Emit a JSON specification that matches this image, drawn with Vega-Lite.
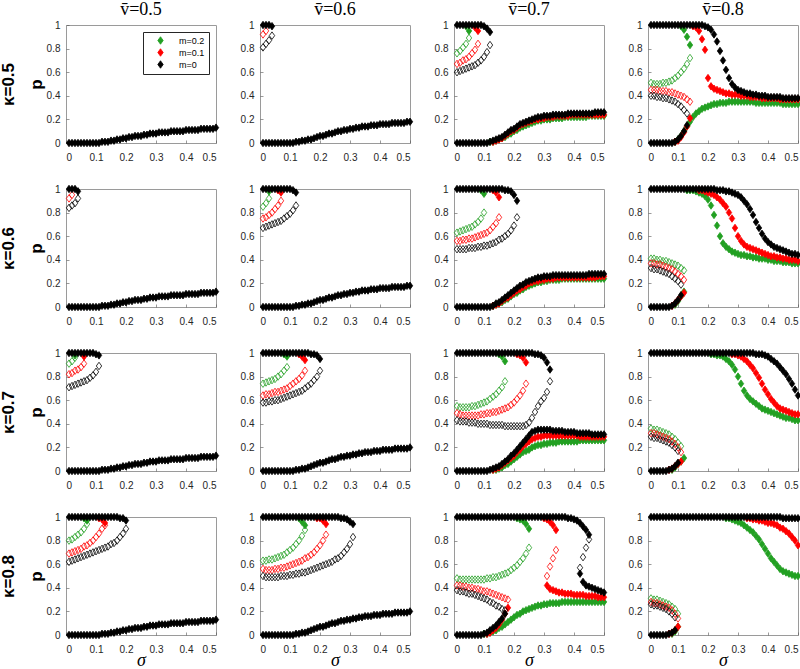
{
"$schema":"https://vega.github.io/schema/vega-lite/v6.json",
"background":"white",
"padding":{"left":-2,"top":0,"right":0,"bottom":0},
"data":{"format":{"type":"csv","parse":{"m":"number","f":"number","s":"number","p":"number"}},"values":"g,m,f,s,p\na,0,1,.01,0\na,0,1,.02,0\na,0,1,.03,0\na,0,1,.04,0\na,0,1,.05,0\na,0,1,.06,0\na,0,1,.07,0\na,0,1,.08,0\na,0,1,.09,0\na,0,1,.1,0\na,0,1,.11,0\na,0,1,.12,.01\na,0,1,.13,.01\na,0,1,.14,.01\na,0,1,.15,.02\na,0,1,.16,.02\na,0,1,.17,.03\na,0,1,.18,.03\na,0,1,.19,.04\na,0,1,.2,.04\na,0,1,.21,.05\na,0,1,.22,.05\na,0,1,.23,.06\na,0,1,.24,.06\na,0,1,.25,.06\na,0,1,.26,.07\na,0,1,.27,.07\na,0,1,.28,.08\na,0,1,.29,.08\na,0,1,.3,.08\na,0,1,.31,.09\na,0,1,.32,.09\na,0,1,.33,.09\na,0,1,.34,.09\na,0,1,.35,.1\na,0,1,.36,.1\na,0,1,.37,.1\na,0,1,.38,.1\na,0,1,.39,.1\na,0,1,.4,.11\na,0,1,.41,.11\na,0,1,.42,.11\na,0,1,.43,.11\na,0,1,.44,.11\na,0,1,.45,.12\na,0,1,.46,.12\na,0,1,.47,.12\na,0,1,.48,.12\na,0,1,.49,.12\na,0,1,.5,.13\nb,.1,0,.01,.92\nb,.1,0,.02,.95\nb,0,1,.01,1\nb,0,1,.02,1\nb,0,1,.03,1\nb,0,1,.04,.99\nb,0,0,.01,.81\nb,0,0,.02,.84\nb,0,0,.03,.87\nb,0,0,.04,.91\nb,0,1,.01,0\nb,0,1,.02,0\nb,0,1,.03,0\nb,0,1,.04,0\nb,0,1,.05,0\nb,0,1,.06,0\nb,0,1,.07,0\nb,0,1,.08,0\nb,0,1,.09,0\nb,0,1,.1,0\nb,0,1,.11,0\nb,0,1,.12,.01\nb,0,1,.13,.01\nb,0,1,.14,.02\nb,0,1,.15,.02\nb,0,1,.16,.03\nb,0,1,.17,.03\nb,0,1,.18,.04\nb,0,1,.19,.05\nb,0,1,.2,.06\nb,0,1,.21,.06\nb,0,1,.22,.07\nb,0,1,.23,.08\nb,0,1,.24,.08\nb,0,1,.25,.09\nb,0,1,.26,.1\nb,0,1,.27,.1\nb,0,1,.28,.11\nb,0,1,.29,.11\nb,0,1,.3,.12\nb,0,1,.31,.12\nb,0,1,.32,.13\nb,0,1,.33,.13\nb,0,1,.34,.14\nb,0,1,.35,.14\nb,0,1,.36,.14\nb,0,1,.37,.15\nb,0,1,.38,.15\nb,0,1,.39,.15\nb,0,1,.4,.16\nb,0,1,.41,.16\nb,0,1,.42,.16\nb,0,1,.43,.16\nb,0,1,.44,.17\nb,0,1,.45,.17\nb,0,1,.46,.17\nb,0,1,.47,.17\nb,0,1,.48,.17\nb,0,1,.49,.18\nb,0,1,.5,.18\nc,.2,1,.04,.99\nc,.2,1,.05,.95\nc,.2,0,.01,.76\nc,.2,0,.02,.78\nc,.2,0,.03,.81\nc,.2,0,.04,.84\nc,.2,0,.05,.89\nc,.2,1,.12,.01\nc,.2,1,.13,.01\nc,.2,1,.14,.02\nc,.2,1,.15,.03\nc,.2,1,.16,.04\nc,.2,1,.17,.05\nc,.2,1,.18,.07\nc,.2,1,.19,.08\nc,.2,1,.2,.1\nc,.2,1,.21,.11\nc,.2,1,.22,.13\nc,.2,1,.23,.14\nc,.2,1,.24,.15\nc,.2,1,.25,.16\nc,.2,1,.26,.17\nc,.2,1,.27,.18\nc,.2,1,.28,.19\nc,.2,1,.29,.19\nc,.2,1,.3,.2\nc,.2,1,.31,.2\nc,.2,1,.32,.2\nc,.2,1,.33,.21\nc,.2,1,.34,.21\nc,.2,1,.35,.21\nc,.2,1,.36,.21\nc,.2,1,.37,.22\nc,.2,1,.38,.22\nc,.2,1,.39,.22\nc,.2,1,.4,.22\nc,.2,1,.41,.22\nc,.2,1,.42,.22\nc,.2,1,.43,.22\nc,.2,1,.44,.22\nc,.2,1,.45,.23\nc,.2,1,.46,.23\nc,.2,1,.47,.23\nc,.2,1,.48,.23\nc,.2,1,.49,.23\nc,.2,1,.5,.23\nc,.1,1,.07,.98\nc,.1,1,.08,.95\nc,.1,0,.01,.67\nc,.1,0,.02,.68\nc,.1,0,.03,.7\nc,.1,0,.04,.71\nc,.1,0,.05,.73\nc,.1,0,.06,.76\nc,.1,0,.07,.79\nc,.1,0,.08,.84\nc,.1,1,.13,.01\nc,.1,1,.14,.02\nc,.1,1,.15,.03\nc,.1,1,.16,.04\nc,.1,1,.17,.06\nc,.1,1,.18,.08\nc,.1,1,.19,.1\nc,.1,1,.2,.11\nc,.1,1,.21,.13\nc,.1,1,.22,.15\nc,.1,1,.23,.16\nc,.1,1,.24,.17\nc,.1,1,.25,.18\nc,.1,1,.26,.19\nc,.1,1,.27,.2\nc,.1,1,.28,.2\nc,.1,1,.29,.21\nc,.1,1,.3,.21\nc,.1,1,.31,.22\nc,.1,1,.32,.22\nc,.1,1,.33,.22\nc,.1,1,.34,.23\nc,.1,1,.35,.23\nc,.1,1,.36,.23\nc,.1,1,.37,.23\nc,.1,1,.38,.23\nc,.1,1,.39,.24\nc,.1,1,.4,.24\nc,.1,1,.41,.24\nc,.1,1,.42,.24\nc,.1,1,.43,.24\nc,.1,1,.44,.24\nc,.1,1,.45,.24\nc,.1,1,.46,.24\nc,.1,1,.47,.24\nc,.1,1,.48,.24\nc,.1,1,.49,.24\nc,.1,1,.5,.24\nc,0,1,.01,1\nc,0,1,.02,1\nc,0,1,.03,1\nc,0,1,.04,1\nc,0,1,.05,1\nc,0,1,.06,1\nc,0,1,.07,1\nc,0,1,.08,1\nc,0,1,.09,1\nc,0,1,.1,.99\nc,0,1,.11,.97\nc,0,1,.12,.94\nc,0,0,.01,.6\nc,0,0,.02,.61\nc,0,0,.03,.62\nc,0,0,.04,.63\nc,0,0,.05,.64\nc,0,0,.06,.65\nc,0,0,.07,.66\nc,0,0,.08,.68\nc,0,0,.09,.7\nc,0,0,.1,.73\nc,0,0,.11,.77\nc,0,0,.12,.83\nc,0,1,.01,0\nc,0,1,.02,0\nc,0,1,.03,0\nc,0,1,.04,0\nc,0,1,.05,0\nc,0,1,.06,0\nc,0,1,.07,0\nc,0,1,.08,0\nc,0,1,.09,0\nc,0,1,.1,0\nc,0,1,.11,0\nc,0,1,.12,.01\nc,0,1,.13,.02\nc,0,1,.14,.03\nc,0,1,.15,.04\nc,0,1,.16,.05\nc,0,1,.17,.07\nc,0,1,.18,.09\nc,0,1,.19,.11\nc,0,1,.2,.12\nc,0,1,.21,.14\nc,0,1,.22,.16\nc,0,1,.23,.17\nc,0,1,.24,.18\nc,0,1,.25,.19\nc,0,1,.26,.2\nc,0,1,.27,.21\nc,0,1,.28,.22\nc,0,1,.29,.22\nc,0,1,.3,.23\nc,0,1,.31,.23\nc,0,1,.32,.23\nc,0,1,.33,.24\nc,0,1,.34,.24\nc,0,1,.35,.24\nc,0,1,.36,.24\nc,0,1,.37,.24\nc,0,1,.38,.25\nc,0,1,.39,.25\nc,0,1,.4,.25\nc,0,1,.41,.25\nc,0,1,.42,.25\nc,0,1,.43,.25\nc,0,1,.44,.25\nc,0,1,.45,.25\nc,0,1,.46,.25\nc,0,1,.47,.26\nc,0,1,.48,.26\nc,0,1,.49,.26\nc,0,1,.5,.26\nd,.2,1,.11,.99\nd,.2,1,.12,.96\nd,.2,1,.13,.9\nd,.2,1,.14,.83\nd,.2,0,.01,.51\nd,.2,0,.02,.5\nd,.2,0,.03,.5\nd,.2,0,.04,.5\nd,.2,0,.05,.51\nd,.2,0,.06,.51\nd,.2,0,.07,.52\nd,.2,0,.08,.53\nd,.2,0,.09,.55\nd,.2,0,.1,.57\nd,.2,0,.11,.6\nd,.2,0,.12,.63\nd,.2,0,.13,.67\nd,.2,0,.14,.72\nd,.2,1,.09,.01\nd,.2,1,.1,.03\nd,.2,1,.11,.06\nd,.2,1,.12,.1\nd,.2,1,.13,.14\nd,.2,1,.14,.18\nd,.2,1,.15,.22\nd,.2,1,.16,.25\nd,.2,1,.17,.27\nd,.2,1,.18,.29\nd,.2,1,.19,.3\nd,.2,1,.2,.31\nd,.2,1,.21,.32\nd,.2,1,.22,.33\nd,.2,1,.23,.33\nd,.2,1,.24,.34\nd,.2,1,.25,.34\nd,.2,1,.26,.34\nd,.2,1,.27,.35\nd,.2,1,.28,.35\nd,.2,1,.29,.35\nd,.2,1,.3,.35\nd,.2,1,.31,.35\nd,.2,1,.32,.35\nd,.2,1,.33,.35\nd,.2,1,.34,.35\nd,.2,1,.35,.35\nd,.2,1,.36,.34\nd,.2,1,.37,.34\nd,.2,1,.38,.34\nd,.2,1,.39,.34\nd,.2,1,.4,.34\nd,.2,1,.41,.34\nd,.2,1,.42,.34\nd,.2,1,.43,.34\nd,.2,1,.44,.34\nd,.2,1,.45,.33\nd,.2,1,.46,.33\nd,.2,1,.47,.33\nd,.2,1,.48,.33\nd,.2,1,.49,.33\nd,.2,1,.5,.33\nd,.1,1,.15,.99\nd,.1,1,.16,.98\nd,.1,1,.17,.95\nd,.1,1,.18,.88\nd,.1,1,.19,.79\nd,.1,1,.2,.55\nd,.1,1,.21,.48\nd,.1,1,.22,.46\nd,.1,1,.23,.45\nd,.1,1,.24,.44\nd,.1,1,.25,.43\nd,.1,1,.26,.42\nd,.1,1,.27,.42\nd,.1,1,.28,.41\nd,.1,1,.29,.41\nd,.1,1,.3,.41\nd,.1,1,.31,.4\nd,.1,1,.32,.4\nd,.1,1,.33,.4\nd,.1,1,.34,.39\nd,.1,1,.35,.39\nd,.1,1,.36,.39\nd,.1,1,.37,.39\nd,.1,1,.38,.38\nd,.1,1,.39,.38\nd,.1,1,.4,.38\nd,.1,1,.41,.38\nd,.1,1,.42,.38\nd,.1,1,.43,.38\nd,.1,1,.44,.37\nd,.1,1,.45,.37\nd,.1,1,.46,.37\nd,.1,1,.47,.37\nd,.1,1,.48,.37\nd,.1,1,.49,.37\nd,.1,1,.5,.37\nd,.1,0,.01,.45\nd,.1,0,.02,.45\nd,.1,0,.03,.45\nd,.1,0,.04,.44\nd,.1,0,.05,.44\nd,.1,0,.06,.44\nd,.1,0,.07,.43\nd,.1,0,.08,.43\nd,.1,0,.09,.42\nd,.1,0,.1,.41\nd,.1,0,.11,.4\nd,.1,0,.12,.39\nd,.1,0,.13,.37\nd,.1,0,.14,.35\nd,.1,1,.09,.01\nd,.1,1,.1,.02\nd,.1,1,.11,.05\nd,.1,1,.12,.09\nd,.1,1,.13,.14\nd,.1,1,.14,.21\nd,0,1,.01,1\nd,0,1,.02,1\nd,0,1,.03,1\nd,0,1,.04,1\nd,0,1,.05,1\nd,0,1,.06,1\nd,0,1,.07,1\nd,0,1,.08,1\nd,0,1,.09,1\nd,0,1,.1,1\nd,0,1,.11,1\nd,0,1,.12,1\nd,0,1,.13,1\nd,0,1,.14,1\nd,0,1,.15,1\nd,0,1,.16,1\nd,0,1,.17,1\nd,0,1,.18,1\nd,0,1,.19,.99\nd,0,1,.2,.98\nd,0,1,.21,.96\nd,0,1,.22,.92\nd,0,1,.23,.86\nd,0,1,.24,.78\nd,0,1,.25,.7\nd,0,1,.26,.62\nd,0,1,.27,.55\nd,0,1,.28,.5\nd,0,1,.29,.47\nd,0,1,.3,.45\nd,0,1,.31,.44\nd,0,1,.32,.43\nd,0,1,.33,.42\nd,0,1,.34,.42\nd,0,1,.35,.41\nd,0,1,.36,.41\nd,0,1,.37,.4\nd,0,1,.38,.4\nd,0,1,.39,.4\nd,0,1,.4,.39\nd,0,1,.41,.39\nd,0,1,.42,.39\nd,0,1,.43,.39\nd,0,1,.44,.39\nd,0,1,.45,.38\nd,0,1,.46,.38\nd,0,1,.47,.38\nd,0,1,.48,.38\nd,0,1,.49,.38\nd,0,1,.5,.38\nd,0,0,.01,.4\nd,0,0,.02,.4\nd,0,0,.03,.39\nd,0,0,.04,.39\nd,0,0,.05,.38\nd,0,0,.06,.38\nd,0,0,.07,.37\nd,0,0,.08,.36\nd,0,0,.09,.35\nd,0,0,.1,.33\nd,0,0,.11,.31\nd,0,0,.12,.28\nd,0,0,.13,.25\nd,0,1,.01,0\nd,0,1,.02,0\nd,0,1,.03,0\nd,0,1,.04,0\nd,0,1,.05,0\nd,0,1,.06,0\nd,0,1,.07,0\nd,0,1,.08,0\nd,0,1,.09,.01\nd,0,1,.1,.03\nd,0,1,.11,.06\nd,0,1,.12,.1\nd,0,1,.13,.15\ne,.1,0,.01,.92\ne,.1,0,.02,.95\ne,0,1,.01,1\ne,0,1,.02,1\ne,0,1,.03,1\ne,0,1,.04,.98\ne,0,0,.01,.84\ne,0,0,.02,.86\ne,0,0,.03,.88\ne,0,0,.04,.92\ne,0,1,.01,0\ne,0,1,.02,0\ne,0,1,.03,0\ne,0,1,.04,0\ne,0,1,.05,0\ne,0,1,.06,0\ne,0,1,.07,0\ne,0,1,.08,0\ne,0,1,.09,0\ne,0,1,.1,0\ne,0,1,.11,0\ne,0,1,.12,.01\ne,0,1,.13,.01\ne,0,1,.14,.01\ne,0,1,.15,.02\ne,0,1,.16,.02\ne,0,1,.17,.03\ne,0,1,.18,.03\ne,0,1,.19,.04\ne,0,1,.2,.04\ne,0,1,.21,.05\ne,0,1,.22,.05\ne,0,1,.23,.06\ne,0,1,.24,.06\ne,0,1,.25,.06\ne,0,1,.26,.07\ne,0,1,.27,.07\ne,0,1,.28,.08\ne,0,1,.29,.08\ne,0,1,.3,.08\ne,0,1,.31,.09\ne,0,1,.32,.09\ne,0,1,.33,.09\ne,0,1,.34,.09\ne,0,1,.35,.1\ne,0,1,.36,.1\ne,0,1,.37,.1\ne,0,1,.38,.1\ne,0,1,.39,.1\ne,0,1,.4,.11\ne,0,1,.41,.11\ne,0,1,.42,.11\ne,0,1,.43,.11\ne,0,1,.44,.11\ne,0,1,.45,.12\ne,0,1,.46,.12\ne,0,1,.47,.12\ne,0,1,.48,.12\ne,0,1,.49,.12\ne,0,1,.5,.13\nf,.2,1,.03,.98\nf,.2,0,.01,.85\nf,.2,0,.02,.88\nf,.2,0,.03,.92\nf,.1,1,.06,.99\nf,.1,1,.07,.97\nf,.1,0,.01,.75\nf,.1,0,.02,.76\nf,.1,0,.03,.78\nf,.1,0,.04,.8\nf,.1,0,.05,.83\nf,.1,0,.06,.86\nf,.1,0,.07,.9\nf,0,1,.01,1\nf,0,1,.02,1\nf,0,1,.03,1\nf,0,1,.04,1\nf,0,1,.05,1\nf,0,1,.06,1\nf,0,1,.07,1\nf,0,1,.08,1\nf,0,1,.09,1\nf,0,1,.1,1\nf,0,1,.11,.99\nf,0,1,.12,.97\nf,0,0,.01,.67\nf,0,0,.02,.68\nf,0,0,.03,.69\nf,0,0,.04,.7\nf,0,0,.05,.71\nf,0,0,.06,.72\nf,0,0,.07,.73\nf,0,0,.08,.75\nf,0,0,.09,.77\nf,0,0,.1,.79\nf,0,0,.11,.82\nf,0,0,.12,.86\nf,0,1,.01,0\nf,0,1,.02,0\nf,0,1,.03,0\nf,0,1,.04,0\nf,0,1,.05,0\nf,0,1,.06,0\nf,0,1,.07,0\nf,0,1,.08,0\nf,0,1,.09,0\nf,0,1,.1,0\nf,0,1,.11,0\nf,0,1,.12,.01\nf,0,1,.13,.01\nf,0,1,.14,.02\nf,0,1,.15,.02\nf,0,1,.16,.03\nf,0,1,.17,.03\nf,0,1,.18,.04\nf,0,1,.19,.05\nf,0,1,.2,.06\nf,0,1,.21,.06\nf,0,1,.22,.07\nf,0,1,.23,.08\nf,0,1,.24,.08\nf,0,1,.25,.09\nf,0,1,.26,.1\nf,0,1,.27,.1\nf,0,1,.28,.11\nf,0,1,.29,.11\nf,0,1,.3,.12\nf,0,1,.31,.12\nf,0,1,.32,.13\nf,0,1,.33,.13\nf,0,1,.34,.14\nf,0,1,.35,.14\nf,0,1,.36,.14\nf,0,1,.37,.15\nf,0,1,.38,.15\nf,0,1,.39,.15\nf,0,1,.4,.16\nf,0,1,.41,.16\nf,0,1,.42,.16\nf,0,1,.43,.16\nf,0,1,.44,.17\nf,0,1,.45,.17\nf,0,1,.46,.17\nf,0,1,.47,.17\nf,0,1,.48,.17\nf,0,1,.49,.18\nf,0,1,.5,.18\ng,.2,1,.09,.99\ng,.2,1,.1,.96\ng,.2,0,.01,.63\ng,.2,0,.02,.64\ng,.2,0,.03,.65\ng,.2,0,.04,.66\ng,.2,0,.05,.67\ng,.2,0,.06,.68\ng,.2,0,.07,.7\ng,.2,0,.08,.72\ng,.2,0,.09,.75\ng,.2,0,.1,.8\ng,.2,1,.13,.01\ng,.2,1,.14,.02\ng,.2,1,.15,.03\ng,.2,1,.16,.04\ng,.2,1,.17,.06\ng,.2,1,.18,.07\ng,.2,1,.19,.09\ng,.2,1,.2,.11\ng,.2,1,.21,.12\ng,.2,1,.22,.14\ng,.2,1,.23,.15\ng,.2,1,.24,.17\ng,.2,1,.25,.18\ng,.2,1,.26,.19\ng,.2,1,.27,.2\ng,.2,1,.28,.21\ng,.2,1,.29,.21\ng,.2,1,.3,.22\ng,.2,1,.31,.22\ng,.2,1,.32,.23\ng,.2,1,.33,.23\ng,.2,1,.34,.23\ng,.2,1,.35,.23\ng,.2,1,.36,.24\ng,.2,1,.37,.24\ng,.2,1,.38,.24\ng,.2,1,.39,.24\ng,.2,1,.4,.24\ng,.2,1,.41,.24\ng,.2,1,.42,.24\ng,.2,1,.43,.24\ng,.2,1,.44,.24\ng,.2,1,.45,.24\ng,.2,1,.46,.24\ng,.2,1,.47,.24\ng,.2,1,.48,.24\ng,.2,1,.49,.24\ng,.2,1,.5,.24\ng,.1,1,.13,.99\ng,.1,1,.14,.97\ng,.1,1,.15,.93\ng,.1,0,.01,.56\ng,.1,0,.02,.56\ng,.1,0,.03,.57\ng,.1,0,.04,.57\ng,.1,0,.05,.58\ng,.1,0,.06,.58\ng,.1,0,.07,.59\ng,.1,0,.08,.6\ng,.1,0,.09,.61\ng,.1,0,.1,.62\ng,.1,0,.11,.63\ng,.1,0,.12,.65\ng,.1,0,.13,.68\ng,.1,0,.14,.71\ng,.1,0,.15,.76\ng,.1,1,.13,.01\ng,.1,1,.14,.02\ng,.1,1,.15,.03\ng,.1,1,.16,.05\ng,.1,1,.17,.07\ng,.1,1,.18,.08\ng,.1,1,.19,.1\ng,.1,1,.2,.12\ng,.1,1,.21,.14\ng,.1,1,.22,.15\ng,.1,1,.23,.17\ng,.1,1,.24,.18\ng,.1,1,.25,.2\ng,.1,1,.26,.21\ng,.1,1,.27,.22\ng,.1,1,.28,.22\ng,.1,1,.29,.23\ng,.1,1,.3,.23\ng,.1,1,.31,.24\ng,.1,1,.32,.24\ng,.1,1,.33,.24\ng,.1,1,.34,.25\ng,.1,1,.35,.25\ng,.1,1,.36,.25\ng,.1,1,.37,.25\ng,.1,1,.38,.25\ng,.1,1,.39,.25\ng,.1,1,.4,.25\ng,.1,1,.41,.25\ng,.1,1,.42,.25\ng,.1,1,.43,.25\ng,.1,1,.44,.25\ng,.1,1,.45,.25\ng,.1,1,.46,.25\ng,.1,1,.47,.25\ng,.1,1,.48,.26\ng,.1,1,.49,.26\ng,.1,1,.5,.26\ng,0,1,.01,1\ng,0,1,.02,1\ng,0,1,.03,1\ng,0,1,.04,1\ng,0,1,.05,1\ng,0,1,.06,1\ng,0,1,.07,1\ng,0,1,.08,1\ng,0,1,.09,1\ng,0,1,.1,1\ng,0,1,.11,1\ng,0,1,.12,1\ng,0,1,.13,1\ng,0,1,.14,1\ng,0,1,.15,1\ng,0,1,.16,1\ng,0,1,.17,.99\ng,0,1,.18,.99\ng,0,1,.19,.98\ng,0,1,.2,.95\ng,0,1,.21,.9\ng,0,0,.01,.49\ng,0,0,.02,.49\ng,0,0,.03,.49\ng,0,0,.04,.49\ng,0,0,.05,.5\ng,0,0,.06,.5\ng,0,0,.07,.5\ng,0,0,.08,.51\ng,0,0,.09,.51\ng,0,0,.1,.52\ng,0,0,.11,.52\ng,0,0,.12,.53\ng,0,0,.13,.54\ng,0,0,.14,.55\ng,0,0,.15,.57\ng,0,0,.16,.58\ng,0,0,.17,.6\ng,0,0,.18,.62\ng,0,0,.19,.65\ng,0,0,.2,.69\ng,0,0,.21,.76\ng,0,1,.01,0\ng,0,1,.02,0\ng,0,1,.03,0\ng,0,1,.04,0\ng,0,1,.05,0\ng,0,1,.06,0\ng,0,1,.07,0\ng,0,1,.08,0\ng,0,1,.09,0\ng,0,1,.1,0\ng,0,1,.11,0\ng,0,1,.12,0\ng,0,1,.13,.01\ng,0,1,.14,.03\ng,0,1,.15,.04\ng,0,1,.16,.06\ng,0,1,.17,.08\ng,0,1,.18,.1\ng,0,1,.19,.12\ng,0,1,.2,.14\ng,0,1,.21,.16\ng,0,1,.22,.18\ng,0,1,.23,.19\ng,0,1,.24,.21\ng,0,1,.25,.22\ng,0,1,.26,.23\ng,0,1,.27,.24\ng,0,1,.28,.25\ng,0,1,.29,.25\ng,0,1,.3,.26\ng,0,1,.31,.26\ng,0,1,.32,.26\ng,0,1,.33,.27\ng,0,1,.34,.27\ng,0,1,.35,.27\ng,0,1,.36,.27\ng,0,1,.37,.27\ng,0,1,.38,.27\ng,0,1,.39,.27\ng,0,1,.4,.27\ng,0,1,.41,.27\ng,0,1,.42,.27\ng,0,1,.43,.27\ng,0,1,.44,.27\ng,0,1,.45,.28\ng,0,1,.46,.28\ng,0,1,.47,.28\ng,0,1,.48,.28\ng,0,1,.49,.28\ng,0,1,.5,.28\nh,.2,1,.13,.99\nh,.2,1,.14,.99\nh,.2,1,.15,.99\nh,.2,1,.16,.98\nh,.2,1,.17,.97\nh,.2,1,.18,.96\nh,.2,1,.19,.94\nh,.2,1,.2,.91\nh,.2,1,.21,.86\nh,.2,1,.22,.78\nh,.2,1,.23,.69\nh,.2,1,.24,.6\nh,.2,1,.25,.54\nh,.2,1,.26,.51\nh,.2,1,.27,.49\nh,.2,1,.28,.47\nh,.2,1,.29,.46\nh,.2,1,.3,.45\nh,.2,1,.31,.44\nh,.2,1,.32,.44\nh,.2,1,.33,.43\nh,.2,1,.34,.43\nh,.2,1,.35,.42\nh,.2,1,.36,.42\nh,.2,1,.37,.41\nh,.2,1,.38,.41\nh,.2,1,.39,.41\nh,.2,1,.4,.4\nh,.2,1,.41,.4\nh,.2,1,.42,.39\nh,.2,1,.43,.39\nh,.2,1,.44,.39\nh,.2,1,.45,.38\nh,.2,1,.46,.38\nh,.2,1,.47,.38\nh,.2,1,.48,.37\nh,.2,1,.49,.37\nh,.2,1,.5,.37\nh,.2,0,.01,.41\nh,.2,0,.02,.41\nh,.2,0,.03,.4\nh,.2,0,.04,.4\nh,.2,0,.05,.39\nh,.2,0,.06,.39\nh,.2,0,.07,.38\nh,.2,0,.08,.37\nh,.2,0,.09,.36\nh,.2,0,.1,.35\nh,.2,0,.11,.33\nh,.2,0,.12,.31\nh,.2,1,.09,.02\nh,.2,1,.1,.05\nh,.2,1,.11,.09\nh,.2,1,.12,.13\nh,.1,1,.17,.99\nh,.1,1,.18,.99\nh,.1,1,.19,.98\nh,.1,1,.2,.97\nh,.1,1,.21,.96\nh,.1,1,.22,.95\nh,.1,1,.23,.93\nh,.1,1,.24,.91\nh,.1,1,.25,.88\nh,.1,1,.26,.85\nh,.1,1,.27,.8\nh,.1,1,.28,.75\nh,.1,1,.29,.67\nh,.1,1,.3,.6\nh,.1,1,.31,.56\nh,.1,1,.32,.53\nh,.1,1,.33,.51\nh,.1,1,.34,.5\nh,.1,1,.35,.49\nh,.1,1,.36,.48\nh,.1,1,.37,.47\nh,.1,1,.38,.46\nh,.1,1,.39,.45\nh,.1,1,.4,.44\nh,.1,1,.41,.43\nh,.1,1,.42,.43\nh,.1,1,.43,.42\nh,.1,1,.44,.42\nh,.1,1,.45,.41\nh,.1,1,.46,.41\nh,.1,1,.47,.4\nh,.1,1,.48,.4\nh,.1,1,.49,.4\nh,.1,1,.5,.39\nh,.1,0,.01,.37\nh,.1,0,.02,.37\nh,.1,0,.03,.36\nh,.1,0,.04,.36\nh,.1,0,.05,.35\nh,.1,0,.06,.34\nh,.1,0,.07,.33\nh,.1,0,.08,.32\nh,.1,0,.09,.3\nh,.1,0,.1,.28\nh,.1,0,.11,.26\nh,.1,0,.12,.23\nh,.1,1,.08,.01\nh,.1,1,.09,.03\nh,.1,1,.1,.06\nh,.1,1,.11,.09\nh,.1,1,.12,.12\nh,0,1,.01,1\nh,0,1,.02,1\nh,0,1,.03,1\nh,0,1,.04,1\nh,0,1,.05,1\nh,0,1,.06,1\nh,0,1,.07,1\nh,0,1,.08,1\nh,0,1,.09,1\nh,0,1,.1,1\nh,0,1,.11,1\nh,0,1,.12,1\nh,0,1,.13,1\nh,0,1,.14,1\nh,0,1,.15,1\nh,0,1,.16,1\nh,0,1,.17,1\nh,0,1,.18,1\nh,0,1,.19,1\nh,0,1,.2,1\nh,0,1,.21,1\nh,0,1,.22,1\nh,0,1,.23,.99\nh,0,1,.24,.99\nh,0,1,.25,.99\nh,0,1,.26,.98\nh,0,1,.27,.98\nh,0,1,.28,.97\nh,0,1,.29,.96\nh,0,1,.3,.95\nh,0,1,.31,.93\nh,0,1,.32,.9\nh,0,1,.33,.87\nh,0,1,.34,.83\nh,0,1,.35,.78\nh,0,1,.36,.72\nh,0,1,.37,.67\nh,0,1,.38,.62\nh,0,1,.39,.58\nh,0,1,.4,.55\nh,0,1,.41,.53\nh,0,1,.42,.51\nh,0,1,.43,.5\nh,0,1,.44,.49\nh,0,1,.45,.48\nh,0,1,.46,.47\nh,0,1,.47,.46\nh,0,1,.48,.45\nh,0,1,.49,.45\nh,0,1,.5,.44\nh,0,0,.01,.33\nh,0,0,.02,.32\nh,0,0,.03,.32\nh,0,0,.04,.31\nh,0,0,.05,.3\nh,0,0,.06,.29\nh,0,0,.07,.28\nh,0,0,.08,.26\nh,0,0,.09,.24\nh,0,0,.1,.22\nh,0,0,.11,.19\nh,0,1,.01,0\nh,0,1,.02,0\nh,0,1,.03,0\nh,0,1,.04,0\nh,0,1,.05,0\nh,0,1,.06,0\nh,0,1,.07,0\nh,0,1,.08,.01\nh,0,1,.09,.03\nh,0,1,.1,.06\nh,0,1,.11,.1\ni,.2,1,.03,.98\ni,.2,0,.01,.91\ni,.2,0,.02,.93\ni,.2,0,.03,.96\ni,.1,1,.06,.97\ni,.1,0,.01,.82\ni,.1,0,.02,.83\ni,.1,0,.03,.85\ni,.1,0,.04,.86\ni,.1,0,.05,.88\ni,.1,0,.06,.91\ni,0,1,.01,1\ni,0,1,.02,1\ni,0,1,.03,1\ni,0,1,.04,1\ni,0,1,.05,1\ni,0,1,.06,1\ni,0,1,.07,1\ni,0,1,.08,1\ni,0,1,.09,1\ni,0,1,.1,.99\ni,0,1,.11,.98\ni,0,0,.01,.71\ni,0,0,.02,.72\ni,0,0,.03,.73\ni,0,0,.04,.74\ni,0,0,.05,.75\ni,0,0,.06,.76\ni,0,0,.07,.77\ni,0,0,.08,.79\ni,0,0,.09,.81\ni,0,0,.1,.84\ni,0,0,.11,.89\ni,0,1,.01,0\ni,0,1,.02,0\ni,0,1,.03,0\ni,0,1,.04,0\ni,0,1,.05,0\ni,0,1,.06,0\ni,0,1,.07,0\ni,0,1,.08,0\ni,0,1,.09,0\ni,0,1,.1,0\ni,0,1,.11,0\ni,0,1,.12,.01\ni,0,1,.13,.01\ni,0,1,.14,.01\ni,0,1,.15,.02\ni,0,1,.16,.02\ni,0,1,.17,.03\ni,0,1,.18,.03\ni,0,1,.19,.04\ni,0,1,.2,.04\ni,0,1,.21,.05\ni,0,1,.22,.05\ni,0,1,.23,.06\ni,0,1,.24,.06\ni,0,1,.25,.06\ni,0,1,.26,.07\ni,0,1,.27,.07\ni,0,1,.28,.08\ni,0,1,.29,.08\ni,0,1,.3,.08\ni,0,1,.31,.09\ni,0,1,.32,.09\ni,0,1,.33,.09\ni,0,1,.34,.09\ni,0,1,.35,.1\ni,0,1,.36,.1\ni,0,1,.37,.1\ni,0,1,.38,.1\ni,0,1,.39,.1\ni,0,1,.4,.11\ni,0,1,.41,.11\ni,0,1,.42,.11\ni,0,1,.43,.11\ni,0,1,.44,.11\ni,0,1,.45,.12\ni,0,1,.46,.12\ni,0,1,.47,.12\ni,0,1,.48,.12\ni,0,1,.49,.12\ni,0,1,.5,.13\nj,.2,1,.08,.99\nj,.2,1,.09,.97\nj,.2,0,.01,.74\nj,.2,0,.02,.75\nj,.2,0,.03,.76\nj,.2,0,.04,.77\nj,.2,0,.05,.78\nj,.2,0,.06,.8\nj,.2,0,.07,.82\nj,.2,0,.08,.85\nj,.2,0,.09,.88\nj,.1,1,.13,.99\nj,.1,1,.14,.97\nj,.1,1,.15,.94\nj,.1,0,.01,.64\nj,.1,0,.02,.65\nj,.1,0,.03,.65\nj,.1,0,.04,.66\nj,.1,0,.05,.67\nj,.1,0,.06,.67\nj,.1,0,.07,.68\nj,.1,0,.08,.69\nj,.1,0,.09,.7\nj,.1,0,.1,.72\nj,.1,0,.11,.74\nj,.1,0,.12,.76\nj,.1,0,.13,.78\nj,.1,0,.14,.81\nj,.1,0,.15,.85\nj,0,1,.01,1\nj,0,1,.02,1\nj,0,1,.03,1\nj,0,1,.04,1\nj,0,1,.05,1\nj,0,1,.06,1\nj,0,1,.07,1\nj,0,1,.08,1\nj,0,1,.09,1\nj,0,1,.1,1\nj,0,1,.11,1\nj,0,1,.12,1\nj,0,1,.13,1\nj,0,1,.14,1\nj,0,1,.15,1\nj,0,1,.16,1\nj,0,1,.17,.99\nj,0,1,.18,.99\nj,0,1,.19,.98\nj,0,1,.2,.95\nj,0,0,.01,.58\nj,0,0,.02,.58\nj,0,0,.03,.59\nj,0,0,.04,.59\nj,0,0,.05,.6\nj,0,0,.06,.6\nj,0,0,.07,.61\nj,0,0,.08,.62\nj,0,0,.09,.63\nj,0,0,.1,.64\nj,0,0,.11,.65\nj,0,0,.12,.66\nj,0,0,.13,.67\nj,0,0,.14,.68\nj,0,0,.15,.7\nj,0,0,.16,.72\nj,0,0,.17,.74\nj,0,0,.18,.77\nj,0,0,.19,.8\nj,0,0,.2,.85\nj,0,1,.01,0\nj,0,1,.02,0\nj,0,1,.03,0\nj,0,1,.04,0\nj,0,1,.05,0\nj,0,1,.06,0\nj,0,1,.07,0\nj,0,1,.08,0\nj,0,1,.09,0\nj,0,1,.1,0\nj,0,1,.11,0\nj,0,1,.12,.01\nj,0,1,.13,.01\nj,0,1,.14,.02\nj,0,1,.15,.02\nj,0,1,.16,.03\nj,0,1,.17,.04\nj,0,1,.18,.05\nj,0,1,.19,.06\nj,0,1,.2,.07\nj,0,1,.21,.07\nj,0,1,.22,.08\nj,0,1,.23,.09\nj,0,1,.24,.1\nj,0,1,.25,.1\nj,0,1,.26,.11\nj,0,1,.27,.12\nj,0,1,.28,.12\nj,0,1,.29,.13\nj,0,1,.3,.13\nj,0,1,.31,.14\nj,0,1,.32,.14\nj,0,1,.33,.15\nj,0,1,.34,.15\nj,0,1,.35,.16\nj,0,1,.36,.16\nj,0,1,.37,.16\nj,0,1,.38,.17\nj,0,1,.39,.17\nj,0,1,.4,.17\nj,0,1,.41,.18\nj,0,1,.42,.18\nj,0,1,.43,.18\nj,0,1,.44,.18\nj,0,1,.45,.19\nj,0,1,.46,.19\nj,0,1,.47,.19\nj,0,1,.48,.19\nj,0,1,.49,.19\nj,0,1,.5,.2\nk,.2,1,.15,.99\nk,.2,1,.16,.97\nk,.2,1,.17,.93\nk,.2,0,.01,.55\nk,.2,0,.02,.54\nk,.2,0,.03,.54\nk,.2,0,.04,.54\nk,.2,0,.05,.54\nk,.2,0,.06,.55\nk,.2,0,.07,.55\nk,.2,0,.08,.56\nk,.2,0,.09,.57\nk,.2,0,.1,.58\nk,.2,0,.11,.59\nk,.2,0,.12,.61\nk,.2,0,.13,.63\nk,.2,0,.14,.65\nk,.2,0,.15,.68\nk,.2,0,.16,.71\nk,.2,0,.17,.76\nk,.2,1,.13,.01\nk,.2,1,.14,.01\nk,.2,1,.15,.02\nk,.2,1,.16,.03\nk,.2,1,.17,.05\nk,.2,1,.18,.06\nk,.2,1,.19,.08\nk,.2,1,.2,.1\nk,.2,1,.21,.12\nk,.2,1,.22,.14\nk,.2,1,.23,.16\nk,.2,1,.24,.17\nk,.2,1,.25,.18\nk,.2,1,.26,.2\nk,.2,1,.27,.21\nk,.2,1,.28,.22\nk,.2,1,.29,.22\nk,.2,1,.3,.23\nk,.2,1,.31,.23\nk,.2,1,.32,.24\nk,.2,1,.33,.24\nk,.2,1,.34,.24\nk,.2,1,.35,.25\nk,.2,1,.36,.25\nk,.2,1,.37,.25\nk,.2,1,.38,.25\nk,.2,1,.39,.25\nk,.2,1,.4,.25\nk,.2,1,.41,.25\nk,.2,1,.42,.26\nk,.2,1,.43,.26\nk,.2,1,.44,.26\nk,.2,1,.45,.26\nk,.2,1,.46,.26\nk,.2,1,.47,.26\nk,.2,1,.48,.26\nk,.2,1,.49,.26\nk,.2,1,.5,.26\nk,.1,1,.21,.99\nk,.1,1,.22,.98\nk,.1,1,.23,.96\nk,.1,1,.24,.92\nk,.1,0,.01,.49\nk,.1,0,.02,.48\nk,.1,0,.03,.47\nk,.1,0,.04,.47\nk,.1,0,.05,.47\nk,.1,0,.06,.47\nk,.1,0,.07,.47\nk,.1,0,.08,.47\nk,.1,0,.09,.48\nk,.1,0,.1,.48\nk,.1,0,.11,.49\nk,.1,0,.12,.49\nk,.1,0,.13,.5\nk,.1,0,.14,.5\nk,.1,0,.15,.51\nk,.1,0,.16,.52\nk,.1,0,.17,.53\nk,.1,0,.18,.54\nk,.1,0,.19,.56\nk,.1,0,.2,.58\nk,.1,0,.21,.61\nk,.1,0,.22,.64\nk,.1,0,.23,.68\nk,.1,0,.24,.74\nk,.1,1,.13,.01\nk,.1,1,.14,.02\nk,.1,1,.15,.03\nk,.1,1,.16,.05\nk,.1,1,.17,.07\nk,.1,1,.18,.09\nk,.1,1,.19,.11\nk,.1,1,.2,.13\nk,.1,1,.21,.16\nk,.1,1,.22,.18\nk,.1,1,.23,.21\nk,.1,1,.24,.23\nk,.1,1,.25,.25\nk,.1,1,.26,.27\nk,.1,1,.27,.28\nk,.1,1,.28,.29\nk,.1,1,.29,.29\nk,.1,1,.3,.3\nk,.1,1,.31,.3\nk,.1,1,.32,.3\nk,.1,1,.33,.3\nk,.1,1,.34,.3\nk,.1,1,.35,.3\nk,.1,1,.36,.3\nk,.1,1,.37,.3\nk,.1,1,.38,.3\nk,.1,1,.39,.3\nk,.1,1,.4,.3\nk,.1,1,.41,.3\nk,.1,1,.42,.29\nk,.1,1,.43,.29\nk,.1,1,.44,.29\nk,.1,1,.45,.29\nk,.1,1,.46,.29\nk,.1,1,.47,.29\nk,.1,1,.48,.29\nk,.1,1,.49,.29\nk,.1,1,.5,.29\nk,0,1,.01,1\nk,0,1,.02,1\nk,0,1,.03,1\nk,0,1,.04,1\nk,0,1,.05,1\nk,0,1,.06,1\nk,0,1,.07,1\nk,0,1,.08,1\nk,0,1,.09,1\nk,0,1,.1,1\nk,0,1,.11,1\nk,0,1,.12,1\nk,0,1,.13,1\nk,0,1,.14,1\nk,0,1,.15,1\nk,0,1,.16,1\nk,0,1,.17,1\nk,0,1,.18,1\nk,0,1,.19,1\nk,0,1,.2,1\nk,0,1,.21,1\nk,0,1,.22,1\nk,0,1,.23,1\nk,0,1,.24,1\nk,0,1,.25,1\nk,0,1,.26,1\nk,0,1,.27,.99\nk,0,1,.28,.99\nk,0,1,.29,.98\nk,0,1,.3,.96\nk,0,1,.31,.92\nk,0,1,.32,.86\nk,0,0,.01,.43\nk,0,0,.02,.42\nk,0,0,.03,.42\nk,0,0,.04,.42\nk,0,0,.05,.41\nk,0,0,.06,.41\nk,0,0,.07,.41\nk,0,0,.08,.4\nk,0,0,.09,.4\nk,0,0,.1,.4\nk,0,0,.11,.4\nk,0,0,.12,.39\nk,0,0,.13,.39\nk,0,0,.14,.39\nk,0,0,.15,.39\nk,0,0,.16,.39\nk,0,0,.17,.38\nk,0,0,.18,.38\nk,0,0,.19,.38\nk,0,0,.2,.38\nk,0,0,.21,.38\nk,0,0,.22,.38\nk,0,0,.23,.38\nk,0,0,.24,.39\nk,0,0,.25,.41\nk,0,0,.26,.45\nk,0,0,.27,.5\nk,0,0,.28,.55\nk,0,0,.29,.59\nk,0,0,.3,.62\nk,0,0,.31,.67\nk,0,0,.32,.76\nk,0,1,.01,0\nk,0,1,.02,0\nk,0,1,.03,0\nk,0,1,.04,0\nk,0,1,.05,0\nk,0,1,.06,0\nk,0,1,.07,0\nk,0,1,.08,0\nk,0,1,.09,0\nk,0,1,.1,0\nk,0,1,.11,0\nk,0,1,.12,.01\nk,0,1,.13,.02\nk,0,1,.14,.03\nk,0,1,.15,.04\nk,0,1,.16,.06\nk,0,1,.17,.08\nk,0,1,.18,.1\nk,0,1,.19,.13\nk,0,1,.2,.15\nk,0,1,.21,.18\nk,0,1,.22,.21\nk,0,1,.23,.24\nk,0,1,.24,.27\nk,0,1,.25,.3\nk,0,1,.26,.33\nk,0,1,.27,.34\nk,0,1,.28,.35\nk,0,1,.29,.35\nk,0,1,.3,.35\nk,0,1,.31,.35\nk,0,1,.32,.35\nk,0,1,.33,.34\nk,0,1,.34,.34\nk,0,1,.35,.34\nk,0,1,.36,.34\nk,0,1,.37,.33\nk,0,1,.38,.33\nk,0,1,.39,.33\nk,0,1,.4,.33\nk,0,1,.41,.32\nk,0,1,.42,.32\nk,0,1,.43,.32\nk,0,1,.44,.32\nk,0,1,.45,.32\nk,0,1,.46,.31\nk,0,1,.47,.31\nk,0,1,.48,.31\nk,0,1,.49,.31\nk,0,1,.5,.31\nl,.2,1,.21,.99\nl,.2,1,.22,.99\nl,.2,1,.23,.98\nl,.2,1,.24,.98\nl,.2,1,.25,.97\nl,.2,1,.26,.95\nl,.2,1,.27,.93\nl,.2,1,.28,.9\nl,.2,1,.29,.86\nl,.2,1,.3,.8\nl,.2,1,.31,.74\nl,.2,1,.32,.68\nl,.2,1,.33,.64\nl,.2,1,.34,.61\nl,.2,1,.35,.59\nl,.2,1,.36,.57\nl,.2,1,.37,.55\nl,.2,1,.38,.53\nl,.2,1,.39,.52\nl,.2,1,.4,.51\nl,.2,1,.41,.5\nl,.2,1,.42,.49\nl,.2,1,.43,.48\nl,.2,1,.44,.47\nl,.2,1,.45,.46\nl,.2,1,.46,.45\nl,.2,1,.47,.45\nl,.2,1,.48,.44\nl,.2,1,.49,.43\nl,.2,1,.5,.43\nl,.2,0,.01,.36\nl,.2,0,.02,.35\nl,.2,0,.03,.35\nl,.2,0,.04,.34\nl,.2,0,.05,.33\nl,.2,0,.06,.32\nl,.2,0,.07,.31\nl,.2,0,.08,.29\nl,.2,0,.09,.27\nl,.2,0,.1,.24\nl,.2,0,.11,.21\nl,.2,1,.08,.01\nl,.2,1,.09,.03\nl,.2,1,.1,.06\nl,.2,1,.11,.08\nl,.2,1,.12,.11\nl,.1,1,.28,.99\nl,.1,1,.29,.99\nl,.1,1,.3,.98\nl,.1,1,.31,.97\nl,.1,1,.32,.95\nl,.1,1,.33,.93\nl,.1,1,.34,.9\nl,.1,1,.35,.87\nl,.1,1,.36,.83\nl,.1,1,.37,.79\nl,.1,1,.38,.74\nl,.1,1,.39,.69\nl,.1,1,.4,.65\nl,.1,1,.41,.61\nl,.1,1,.42,.58\nl,.1,1,.43,.55\nl,.1,1,.44,.53\nl,.1,1,.45,.52\nl,.1,1,.46,.51\nl,.1,1,.47,.5\nl,.1,1,.48,.49\nl,.1,1,.49,.48\nl,.1,1,.5,.48\nl,.1,0,.01,.32\nl,.1,0,.02,.32\nl,.1,0,.03,.31\nl,.1,0,.04,.3\nl,.1,0,.05,.29\nl,.1,0,.06,.28\nl,.1,0,.07,.27\nl,.1,0,.08,.25\nl,.1,0,.09,.23\nl,.1,0,.1,.2\nl,.1,0,.11,.16\nl,.1,1,.07,.01\nl,.1,1,.08,.02\nl,.1,1,.09,.04\nl,.1,1,.1,.06\nl,.1,1,.11,.08\nl,0,1,.01,1\nl,0,1,.02,1\nl,0,1,.03,1\nl,0,1,.04,1\nl,0,1,.05,1\nl,0,1,.06,1\nl,0,1,.07,1\nl,0,1,.08,1\nl,0,1,.09,1\nl,0,1,.1,1\nl,0,1,.11,1\nl,0,1,.12,1\nl,0,1,.13,1\nl,0,1,.14,1\nl,0,1,.15,1\nl,0,1,.16,1\nl,0,1,.17,1\nl,0,1,.18,1\nl,0,1,.19,1\nl,0,1,.2,1\nl,0,1,.21,1\nl,0,1,.22,1\nl,0,1,.23,1\nl,0,1,.24,1\nl,0,1,.25,1\nl,0,1,.26,1\nl,0,1,.27,1\nl,0,1,.28,1\nl,0,1,.29,1\nl,0,1,.3,1\nl,0,1,.31,1\nl,0,1,.32,1\nl,0,1,.33,1\nl,0,1,.34,1\nl,0,1,.35,1\nl,0,1,.36,.99\nl,0,1,.37,.99\nl,0,1,.38,.99\nl,0,1,.39,.98\nl,0,1,.4,.97\nl,0,1,.41,.95\nl,0,1,.42,.93\nl,0,1,.43,.91\nl,0,1,.44,.88\nl,0,1,.45,.85\nl,0,1,.46,.82\nl,0,1,.47,.78\nl,0,1,.48,.74\nl,0,1,.49,.69\nl,0,1,.5,.64\nl,0,0,.01,.29\nl,0,0,.02,.28\nl,0,0,.03,.28\nl,0,0,.04,.27\nl,0,0,.05,.26\nl,0,0,.06,.25\nl,0,0,.07,.24\nl,0,0,.08,.22\nl,0,0,.09,.2\nl,0,0,.1,.17\nl,0,1,.01,0\nl,0,1,.02,0\nl,0,1,.03,0\nl,0,1,.04,0\nl,0,1,.05,0\nl,0,1,.06,0\nl,0,1,.07,.01\nl,0,1,.08,.02\nl,0,1,.09,.04\nl,0,1,.1,.07\nm,.2,1,.06,.99\nm,.2,1,.07,.97\nm,.2,0,.01,.8\nm,.2,0,.02,.81\nm,.2,0,.03,.83\nm,.2,0,.04,.85\nm,.2,0,.05,.87\nm,.2,0,.06,.9\nm,.2,0,.07,.94\nm,.1,1,.11,.99\nm,.1,1,.12,.98\nm,.1,1,.13,.95\nm,.1,0,.01,.69\nm,.1,0,.02,.7\nm,.1,0,.03,.71\nm,.1,0,.04,.72\nm,.1,0,.05,.73\nm,.1,0,.06,.75\nm,.1,0,.07,.76\nm,.1,0,.08,.78\nm,.1,0,.09,.8\nm,.1,0,.1,.83\nm,.1,0,.11,.86\nm,.1,0,.12,.9\nm,.1,0,.13,.93\nm,0,1,.01,1\nm,0,1,.02,1\nm,0,1,.03,1\nm,0,1,.04,1\nm,0,1,.05,1\nm,0,1,.06,1\nm,0,1,.07,1\nm,0,1,.08,1\nm,0,1,.09,1\nm,0,1,.1,1\nm,0,1,.11,1\nm,0,1,.12,1\nm,0,1,.13,1\nm,0,1,.14,1\nm,0,1,.15,1\nm,0,1,.16,1\nm,0,1,.17,1\nm,0,1,.18,.99\nm,0,1,.19,.99\nm,0,1,.2,.97\nm,0,0,.01,.62\nm,0,0,.02,.63\nm,0,0,.03,.64\nm,0,0,.04,.65\nm,0,0,.05,.66\nm,0,0,.06,.67\nm,0,0,.07,.68\nm,0,0,.08,.69\nm,0,0,.09,.7\nm,0,0,.1,.71\nm,0,0,.11,.72\nm,0,0,.12,.73\nm,0,0,.13,.74\nm,0,0,.14,.75\nm,0,0,.15,.77\nm,0,0,.16,.78\nm,0,0,.17,.8\nm,0,0,.18,.83\nm,0,0,.19,.86\nm,0,0,.2,.9\nm,0,1,.01,0\nm,0,1,.02,0\nm,0,1,.03,0\nm,0,1,.04,0\nm,0,1,.05,0\nm,0,1,.06,0\nm,0,1,.07,0\nm,0,1,.08,0\nm,0,1,.09,0\nm,0,1,.1,0\nm,0,1,.11,0\nm,0,1,.12,.01\nm,0,1,.13,.01\nm,0,1,.14,.01\nm,0,1,.15,.02\nm,0,1,.16,.02\nm,0,1,.17,.03\nm,0,1,.18,.03\nm,0,1,.19,.04\nm,0,1,.2,.04\nm,0,1,.21,.05\nm,0,1,.22,.05\nm,0,1,.23,.06\nm,0,1,.24,.06\nm,0,1,.25,.06\nm,0,1,.26,.07\nm,0,1,.27,.07\nm,0,1,.28,.08\nm,0,1,.29,.08\nm,0,1,.3,.08\nm,0,1,.31,.09\nm,0,1,.32,.09\nm,0,1,.33,.09\nm,0,1,.34,.09\nm,0,1,.35,.1\nm,0,1,.36,.1\nm,0,1,.37,.1\nm,0,1,.38,.1\nm,0,1,.39,.1\nm,0,1,.4,.11\nm,0,1,.41,.11\nm,0,1,.42,.11\nm,0,1,.43,.11\nm,0,1,.44,.11\nm,0,1,.45,.12\nm,0,1,.46,.12\nm,0,1,.47,.12\nm,0,1,.48,.12\nm,0,1,.49,.12\nm,0,1,.5,.13\nn,.2,1,.13,.99\nn,.2,1,.14,.96\nn,.2,1,.15,.93\nn,.2,0,.01,.63\nn,.2,0,.02,.63\nn,.2,0,.03,.64\nn,.2,0,.04,.64\nn,.2,0,.05,.65\nn,.2,0,.06,.66\nn,.2,0,.07,.67\nn,.2,0,.08,.68\nn,.2,0,.09,.7\nn,.2,0,.1,.72\nn,.2,0,.11,.74\nn,.2,0,.12,.77\nn,.2,0,.13,.8\nn,.2,0,.14,.84\nn,.2,0,.15,.89\nn,.1,1,.19,.99\nn,.1,1,.2,.99\nn,.1,1,.21,.97\nn,.1,1,.22,.94\nn,.1,0,.01,.56\nn,.1,0,.02,.55\nn,.1,0,.03,.55\nn,.1,0,.04,.55\nn,.1,0,.05,.56\nn,.1,0,.06,.56\nn,.1,0,.07,.57\nn,.1,0,.08,.57\nn,.1,0,.09,.58\nn,.1,0,.1,.59\nn,.1,0,.11,.6\nn,.1,0,.12,.61\nn,.1,0,.13,.62\nn,.1,0,.14,.63\nn,.1,0,.15,.65\nn,.1,0,.16,.66\nn,.1,0,.17,.68\nn,.1,0,.18,.7\nn,.1,0,.19,.73\nn,.1,0,.2,.76\nn,.1,0,.21,.8\nn,.1,0,.22,.85\nn,0,1,.01,1\nn,0,1,.02,1\nn,0,1,.03,1\nn,0,1,.04,1\nn,0,1,.05,1\nn,0,1,.06,1\nn,0,1,.07,1\nn,0,1,.08,1\nn,0,1,.09,1\nn,0,1,.1,1\nn,0,1,.11,1\nn,0,1,.12,1\nn,0,1,.13,1\nn,0,1,.14,1\nn,0,1,.15,1\nn,0,1,.16,1\nn,0,1,.17,1\nn,0,1,.18,1\nn,0,1,.19,1\nn,0,1,.2,1\nn,0,1,.21,1\nn,0,1,.22,1\nn,0,1,.23,1\nn,0,1,.24,1\nn,0,1,.25,1\nn,0,1,.26,1\nn,0,1,.27,.99\nn,0,1,.28,.99\nn,0,1,.29,.98\nn,0,1,.3,.96\nn,0,1,.31,.94\nn,0,0,.01,.5\nn,0,0,.02,.49\nn,0,0,.03,.49\nn,0,0,.04,.49\nn,0,0,.05,.49\nn,0,0,.06,.49\nn,0,0,.07,.5\nn,0,0,.08,.5\nn,0,0,.09,.5\nn,0,0,.1,.51\nn,0,0,.11,.51\nn,0,0,.12,.52\nn,0,0,.13,.52\nn,0,0,.14,.53\nn,0,0,.15,.53\nn,0,0,.16,.54\nn,0,0,.17,.55\nn,0,0,.18,.56\nn,0,0,.19,.57\nn,0,0,.2,.58\nn,0,0,.21,.59\nn,0,0,.22,.6\nn,0,0,.23,.61\nn,0,0,.24,.62\nn,0,0,.25,.64\nn,0,0,.26,.65\nn,0,0,.27,.67\nn,0,0,.28,.7\nn,0,0,.29,.73\nn,0,0,.3,.77\nn,0,0,.31,.83\nn,0,1,.01,0\nn,0,1,.02,0\nn,0,1,.03,0\nn,0,1,.04,0\nn,0,1,.05,0\nn,0,1,.06,0\nn,0,1,.07,0\nn,0,1,.08,0\nn,0,1,.09,0\nn,0,1,.1,0\nn,0,1,.11,0\nn,0,1,.12,.01\nn,0,1,.13,.01\nn,0,1,.14,.02\nn,0,1,.15,.02\nn,0,1,.16,.03\nn,0,1,.17,.04\nn,0,1,.18,.05\nn,0,1,.19,.06\nn,0,1,.2,.07\nn,0,1,.21,.07\nn,0,1,.22,.08\nn,0,1,.23,.09\nn,0,1,.24,.1\nn,0,1,.25,.1\nn,0,1,.26,.11\nn,0,1,.27,.12\nn,0,1,.28,.12\nn,0,1,.29,.13\nn,0,1,.3,.13\nn,0,1,.31,.14\nn,0,1,.32,.14\nn,0,1,.33,.15\nn,0,1,.34,.15\nn,0,1,.35,.16\nn,0,1,.36,.16\nn,0,1,.37,.16\nn,0,1,.38,.17\nn,0,1,.39,.17\nn,0,1,.4,.17\nn,0,1,.41,.18\nn,0,1,.42,.18\nn,0,1,.43,.18\nn,0,1,.44,.18\nn,0,1,.45,.19\nn,0,1,.46,.19\nn,0,1,.47,.19\nn,0,1,.48,.19\nn,0,1,.49,.19\nn,0,1,.5,.2\no,.2,1,.21,.99\no,.2,1,.22,.98\no,.2,1,.23,.97\no,.2,1,.24,.94\no,.2,1,.25,.9\no,.2,0,.01,.48\no,.2,0,.02,.47\no,.2,0,.03,.47\no,.2,0,.04,.47\no,.2,0,.05,.47\no,.2,0,.06,.47\no,.2,0,.07,.47\no,.2,0,.08,.47\no,.2,0,.09,.47\no,.2,0,.1,.47\no,.2,0,.11,.48\no,.2,0,.12,.48\no,.2,0,.13,.49\no,.2,0,.14,.49\no,.2,0,.15,.5\no,.2,0,.16,.51\no,.2,0,.17,.52\no,.2,0,.18,.53\no,.2,0,.19,.55\no,.2,0,.2,.57\no,.2,0,.21,.59\no,.2,0,.22,.62\no,.2,0,.23,.65\no,.2,0,.24,.69\no,.2,0,.25,.74\no,.2,1,.1,.01\no,.2,1,.11,.01\no,.2,1,.12,.02\no,.2,1,.13,.03\no,.2,1,.14,.04\no,.2,1,.15,.06\no,.2,1,.16,.07\no,.2,1,.17,.09\no,.2,1,.18,.11\no,.2,1,.19,.13\no,.2,1,.2,.15\no,.2,1,.21,.17\no,.2,1,.22,.18\no,.2,1,.23,.2\no,.2,1,.24,.21\no,.2,1,.25,.22\no,.2,1,.26,.23\no,.2,1,.27,.24\no,.2,1,.28,.25\no,.2,1,.29,.25\no,.2,1,.3,.26\no,.2,1,.31,.26\no,.2,1,.32,.27\no,.2,1,.33,.27\no,.2,1,.34,.27\no,.2,1,.35,.27\no,.2,1,.36,.28\no,.2,1,.37,.28\no,.2,1,.38,.28\no,.2,1,.39,.28\no,.2,1,.4,.28\no,.2,1,.41,.28\no,.2,1,.42,.28\no,.2,1,.43,.28\no,.2,1,.44,.28\no,.2,1,.45,.28\no,.2,1,.46,.28\no,.2,1,.47,.28\no,.2,1,.48,.28\no,.2,1,.49,.28\no,.2,1,.5,.28\no,.1,1,.3,.99\no,.1,1,.31,.98\no,.1,1,.32,.96\no,.1,1,.33,.93\no,.1,1,.34,.89\no,.1,0,.31,.5\no,.1,0,.32,.58\no,.1,0,.33,.65\no,.1,0,.34,.72\no,.1,1,.31,.42\no,.1,1,.32,.39\no,.1,1,.33,.38\no,.1,1,.34,.37\no,.1,1,.35,.36\no,.1,1,.36,.36\no,.1,1,.37,.35\no,.1,1,.38,.35\no,.1,1,.39,.35\no,.1,1,.4,.34\no,.1,1,.41,.34\no,.1,1,.42,.34\no,.1,1,.43,.34\no,.1,1,.44,.33\no,.1,1,.45,.33\no,.1,1,.46,.33\no,.1,1,.47,.33\no,.1,1,.48,.32\no,.1,1,.49,.32\no,.1,1,.5,.32\no,.1,0,.01,.42\no,.1,0,.02,.42\no,.1,0,.03,.41\no,.1,0,.04,.41\no,.1,0,.05,.4\no,.1,0,.06,.4\no,.1,0,.07,.39\no,.1,0,.08,.39\no,.1,0,.09,.38\no,.1,0,.1,.37\no,.1,0,.11,.37\no,.1,0,.12,.36\no,.1,0,.13,.35\no,.1,0,.14,.34\no,.1,0,.15,.33\no,.1,0,.16,.32\no,.1,0,.17,.31\no,.1,0,.18,.3\no,.1,1,.11,.01\no,.1,1,.12,.02\no,.1,1,.13,.04\no,.1,1,.14,.06\no,.1,1,.15,.09\no,.1,1,.16,.13\no,.1,1,.17,.18\no,.1,1,.18,.23\no,0,1,.01,1\no,0,1,.02,1\no,0,1,.03,1\no,0,1,.04,1\no,0,1,.05,1\no,0,1,.06,1\no,0,1,.07,1\no,0,1,.08,1\no,0,1,.09,1\no,0,1,.1,1\no,0,1,.11,1\no,0,1,.12,1\no,0,1,.13,1\no,0,1,.14,1\no,0,1,.15,1\no,0,1,.16,1\no,0,1,.17,1\no,0,1,.18,1\no,0,1,.19,1\no,0,1,.2,1\no,0,1,.21,1\no,0,1,.22,1\no,0,1,.23,1\no,0,1,.24,1\no,0,1,.25,1\no,0,1,.26,1\no,0,1,.27,1\no,0,1,.28,1\no,0,1,.29,1\no,0,1,.3,1\no,0,1,.31,1\no,0,1,.32,1\no,0,1,.33,1\no,0,1,.34,1\no,0,1,.35,1\no,0,1,.36,1\no,0,1,.37,1\no,0,1,.38,.99\no,0,1,.39,.99\no,0,1,.4,.98\no,0,1,.41,.97\no,0,1,.42,.95\no,0,1,.43,.92\no,0,1,.44,.89\no,0,1,.45,.85\no,0,0,.42,.57\no,0,0,.43,.66\no,0,0,.44,.74\no,0,0,.45,.81\no,0,1,.42,.52\no,0,1,.43,.45\no,0,1,.44,.42\no,0,1,.45,.41\no,0,1,.46,.4\no,0,1,.47,.39\no,0,1,.48,.38\no,0,1,.49,.37\no,0,1,.5,.36\no,0,0,.01,.38\no,0,0,.02,.37\no,0,0,.03,.37\no,0,0,.04,.36\no,0,0,.05,.35\no,0,0,.06,.35\no,0,0,.07,.34\no,0,0,.08,.33\no,0,0,.09,.32\no,0,0,.1,.31\no,0,0,.11,.3\no,0,0,.12,.28\no,0,0,.13,.27\no,0,0,.14,.25\no,0,0,.15,.24\no,0,0,.16,.22\no,0,0,.17,.21\no,0,1,.01,0\no,0,1,.02,0\no,0,1,.03,0\no,0,1,.04,0\no,0,1,.05,0\no,0,1,.06,0\no,0,1,.07,0\no,0,1,.08,0\no,0,1,.09,0\no,0,1,.1,.01\no,0,1,.11,.02\no,0,1,.12,.04\no,0,1,.13,.06\no,0,1,.14,.08\no,0,1,.15,.11\no,0,1,.16,.14\no,0,1,.17,.18\np,.2,1,.26,.99\np,.2,1,.27,.99\np,.2,1,.28,.98\np,.2,1,.29,.97\np,.2,1,.3,.96\np,.2,1,.31,.95\np,.2,1,.32,.93\np,.2,1,.33,.91\np,.2,1,.34,.89\np,.2,1,.35,.87\np,.2,1,.36,.84\np,.2,1,.37,.81\np,.2,1,.38,.77\np,.2,1,.39,.73\np,.2,1,.4,.69\np,.2,1,.41,.65\np,.2,1,.42,.62\np,.2,1,.43,.59\np,.2,1,.44,.56\np,.2,1,.45,.54\np,.2,1,.46,.53\np,.2,1,.47,.52\np,.2,1,.48,.51\np,.2,1,.49,.5\np,.2,1,.5,.5\np,.2,0,.01,.31\np,.2,0,.02,.3\np,.2,0,.03,.3\np,.2,0,.04,.29\np,.2,0,.05,.28\np,.2,0,.06,.27\np,.2,0,.07,.26\np,.2,0,.08,.24\np,.2,0,.09,.22\np,.2,0,.1,.18\np,.2,1,.08,.01\np,.2,1,.09,.03\np,.2,1,.1,.07\np,.1,1,.33,.99\np,.1,1,.34,.99\np,.1,1,.35,.98\np,.1,1,.36,.98\np,.1,1,.37,.97\np,.1,1,.38,.97\np,.1,1,.39,.96\np,.1,1,.4,.95\np,.1,1,.41,.95\np,.1,1,.42,.94\np,.1,1,.43,.93\np,.1,1,.44,.91\np,.1,1,.45,.9\np,.1,1,.46,.88\np,.1,1,.47,.86\np,.1,1,.48,.83\np,.1,1,.49,.8\np,.1,1,.5,.76\np,.1,0,.01,.28\np,.1,0,.02,.27\np,.1,0,.03,.27\np,.1,0,.04,.26\np,.1,0,.05,.25\np,.1,0,.06,.24\np,.1,0,.07,.23\np,.1,0,.08,.21\np,.1,0,.09,.18\np,.1,0,.1,.14\np,.1,1,.07,.01\np,.1,1,.08,.02\np,.1,1,.09,.04\np,.1,1,.1,.07\np,0,1,.01,1\np,0,1,.02,1\np,0,1,.03,1\np,0,1,.04,1\np,0,1,.05,1\np,0,1,.06,1\np,0,1,.07,1\np,0,1,.08,1\np,0,1,.09,1\np,0,1,.1,1\np,0,1,.11,1\np,0,1,.12,1\np,0,1,.13,1\np,0,1,.14,1\np,0,1,.15,1\np,0,1,.16,1\np,0,1,.17,1\np,0,1,.18,1\np,0,1,.19,1\np,0,1,.2,1\np,0,1,.21,1\np,0,1,.22,1\np,0,1,.23,1\np,0,1,.24,1\np,0,1,.25,1\np,0,1,.26,1\np,0,1,.27,1\np,0,1,.28,1\np,0,1,.29,1\np,0,1,.3,1\np,0,1,.31,1\np,0,1,.32,1\np,0,1,.33,1\np,0,1,.34,1\np,0,1,.35,1\np,0,1,.36,1\np,0,1,.37,1\np,0,1,.38,1\np,0,1,.39,1\np,0,1,.4,1\np,0,1,.41,1\np,0,1,.42,1\np,0,1,.43,1\np,0,1,.44,1\np,0,1,.45,.99\np,0,1,.46,.99\np,0,1,.47,.99\np,0,1,.48,.99\np,0,1,.49,.99\np,0,1,.5,.99\np,0,0,.01,.26\np,0,0,.02,.25\np,0,0,.03,.25\np,0,0,.04,.24\np,0,0,.05,.23\np,0,0,.06,.22\np,0,0,.07,.2\np,0,0,.08,.18\np,0,0,.09,.15\np,0,1,.01,0\np,0,1,.02,0\np,0,1,.03,0\np,0,1,.04,0\np,0,1,.05,0\np,0,1,.06,0\np,0,1,.07,.01\np,0,1,.08,.02\np,0,1,.09,.04"},
"columns":4,
"spacing":{"row":46,"column":44},
"bounds":"flush",
"resolve":{"scale":{"fill":"independent","stroke":"independent","fillOpacity":"independent","x":"independent","y":"independent"},"legend":{"fill":"independent","stroke":"independent","fillOpacity":"independent"}},
"config":{
"view":{"continuousWidth":150,"continuousHeight":118,"stroke":"#9a9a9a","strokeWidth":1},
"point":{"shape":"M0,-1L0.72,0L0,1L-0.72,0Z","size":56,"strokeWidth":0.8,"opacity":1},
"axis":{"labelFont":"Liberation Sans","labelFontSize":10,"labelColor":"#262626","domain":false,"grid":false,"ticks":true,"tickColor":"#555555","tickSize":-3,"tickWidth":0.6},
"axisX":{"labelPadding":12,"titlePadding":-3,"titleFont":"Liberation Serif","titleFontStyle":"italic","titleFontWeight":"normal","titleFontSize":18,"titleColor":"black","tickCount":6},
"axisY":{"labelPadding":9,"titlePadding":1,"titleFont":"Liberation Sans","titleFontWeight":"bold","titleFontSize":17,"titleColor":"black","titleLineHeight":28,"tickCount":6},
"title":{"font":"Liberation Serif","fontSize":18,"fontWeight":"normal","color":"black","offset":1}
},
"concat":[
{"title":"v̄=0.5","transform":[{"filter":"datum.g=='a'"}],"mark":"point","encoding":{"x":{"field":"s","type":"quantitative","scale":{"domain":[0,0.5]},"axis":{"format":"~g","title":null}},"y":{"field":"p","type":"quantitative","scale":{"domain":[0,1]},"axis":{"format":"~g","title":["κ=0.5","p"]}},"fill":{"field":"m","type":"nominal","scale":{"domain":[0.2,0.1,0],"range":["#22a022","#ff0000","#000000"]},"legend":{"orient":"top-right","offset":7,"title":null,"labelExpr":"'m=' + datum.label","strokeColor":"#262626","fillColor":"white","padding":4,"labelFont":"Liberation Sans","labelFontSize":9,"labelColor":"black","symbolSize":56,"symbolType":"M0,-1L0.72,0L0,1L-0.72,0Z","symbolStrokeWidth":0,"symbolOffset":9,"rowPadding":1,"labelOffset":14}},"stroke":{"field":"m","type":"nominal","scale":{"domain":[0.2,0.1,0],"range":["#22a022","#ff0000","#000000"]},"legend":null},"fillOpacity":{"field":"f","type":"quantitative","scale":{"domain":[0,1],"range":[0,1]},"legend":null}}},
{"title":"v̄=0.6","transform":[{"filter":"datum.g=='b'"}],"mark":"point","encoding":{"x":{"field":"s","type":"quantitative","scale":{"domain":[0,0.5]},"axis":{"format":"~g","title":null}},"y":{"field":"p","type":"quantitative","scale":{"domain":[0,1]},"axis":{"format":"~g","title":null}},"fill":{"field":"m","type":"nominal","scale":{"domain":[0.2,0.1,0],"range":["#22a022","#ff0000","#000000"]},"legend":null},"stroke":{"field":"m","type":"nominal","scale":{"domain":[0.2,0.1,0],"range":["#22a022","#ff0000","#000000"]},"legend":null},"fillOpacity":{"field":"f","type":"quantitative","scale":{"domain":[0,1],"range":[0,1]},"legend":null}}},
{"title":"v̄=0.7","transform":[{"filter":"datum.g=='c'"}],"mark":"point","encoding":{"x":{"field":"s","type":"quantitative","scale":{"domain":[0,0.5]},"axis":{"format":"~g","title":null}},"y":{"field":"p","type":"quantitative","scale":{"domain":[0,1]},"axis":{"format":"~g","title":null}},"fill":{"field":"m","type":"nominal","scale":{"domain":[0.2,0.1,0],"range":["#22a022","#ff0000","#000000"]},"legend":null},"stroke":{"field":"m","type":"nominal","scale":{"domain":[0.2,0.1,0],"range":["#22a022","#ff0000","#000000"]},"legend":null},"fillOpacity":{"field":"f","type":"quantitative","scale":{"domain":[0,1],"range":[0,1]},"legend":null}}},
{"title":"v̄=0.8","transform":[{"filter":"datum.g=='d'"}],"mark":"point","encoding":{"x":{"field":"s","type":"quantitative","scale":{"domain":[0,0.5]},"axis":{"format":"~g","title":null,"labelFlush":true}},"y":{"field":"p","type":"quantitative","scale":{"domain":[0,1]},"axis":{"format":"~g","title":null}},"fill":{"field":"m","type":"nominal","scale":{"domain":[0.2,0.1,0],"range":["#22a022","#ff0000","#000000"]},"legend":null},"stroke":{"field":"m","type":"nominal","scale":{"domain":[0.2,0.1,0],"range":["#22a022","#ff0000","#000000"]},"legend":null},"fillOpacity":{"field":"f","type":"quantitative","scale":{"domain":[0,1],"range":[0,1]},"legend":null}}},
{"transform":[{"filter":"datum.g=='e'"}],"mark":"point","encoding":{"x":{"field":"s","type":"quantitative","scale":{"domain":[0,0.5]},"axis":{"format":"~g","title":null}},"y":{"field":"p","type":"quantitative","scale":{"domain":[0,1]},"axis":{"format":"~g","title":["κ=0.6","p"]}},"fill":{"field":"m","type":"nominal","scale":{"domain":[0.2,0.1,0],"range":["#22a022","#ff0000","#000000"]},"legend":null},"stroke":{"field":"m","type":"nominal","scale":{"domain":[0.2,0.1,0],"range":["#22a022","#ff0000","#000000"]},"legend":null},"fillOpacity":{"field":"f","type":"quantitative","scale":{"domain":[0,1],"range":[0,1]},"legend":null}}},
{"transform":[{"filter":"datum.g=='f'"}],"mark":"point","encoding":{"x":{"field":"s","type":"quantitative","scale":{"domain":[0,0.5]},"axis":{"format":"~g","title":null}},"y":{"field":"p","type":"quantitative","scale":{"domain":[0,1]},"axis":{"format":"~g","title":null}},"fill":{"field":"m","type":"nominal","scale":{"domain":[0.2,0.1,0],"range":["#22a022","#ff0000","#000000"]},"legend":null},"stroke":{"field":"m","type":"nominal","scale":{"domain":[0.2,0.1,0],"range":["#22a022","#ff0000","#000000"]},"legend":null},"fillOpacity":{"field":"f","type":"quantitative","scale":{"domain":[0,1],"range":[0,1]},"legend":null}}},
{"transform":[{"filter":"datum.g=='g'"}],"mark":"point","encoding":{"x":{"field":"s","type":"quantitative","scale":{"domain":[0,0.5]},"axis":{"format":"~g","title":null}},"y":{"field":"p","type":"quantitative","scale":{"domain":[0,1]},"axis":{"format":"~g","title":null}},"fill":{"field":"m","type":"nominal","scale":{"domain":[0.2,0.1,0],"range":["#22a022","#ff0000","#000000"]},"legend":null},"stroke":{"field":"m","type":"nominal","scale":{"domain":[0.2,0.1,0],"range":["#22a022","#ff0000","#000000"]},"legend":null},"fillOpacity":{"field":"f","type":"quantitative","scale":{"domain":[0,1],"range":[0,1]},"legend":null}}},
{"transform":[{"filter":"datum.g=='h'"}],"mark":"point","encoding":{"x":{"field":"s","type":"quantitative","scale":{"domain":[0,0.5]},"axis":{"format":"~g","title":null,"labelFlush":true}},"y":{"field":"p","type":"quantitative","scale":{"domain":[0,1]},"axis":{"format":"~g","title":null}},"fill":{"field":"m","type":"nominal","scale":{"domain":[0.2,0.1,0],"range":["#22a022","#ff0000","#000000"]},"legend":null},"stroke":{"field":"m","type":"nominal","scale":{"domain":[0.2,0.1,0],"range":["#22a022","#ff0000","#000000"]},"legend":null},"fillOpacity":{"field":"f","type":"quantitative","scale":{"domain":[0,1],"range":[0,1]},"legend":null}}},
{"transform":[{"filter":"datum.g=='i'"}],"mark":"point","encoding":{"x":{"field":"s","type":"quantitative","scale":{"domain":[0,0.5]},"axis":{"format":"~g","title":null}},"y":{"field":"p","type":"quantitative","scale":{"domain":[0,1]},"axis":{"format":"~g","title":["κ=0.7","p"]}},"fill":{"field":"m","type":"nominal","scale":{"domain":[0.2,0.1,0],"range":["#22a022","#ff0000","#000000"]},"legend":null},"stroke":{"field":"m","type":"nominal","scale":{"domain":[0.2,0.1,0],"range":["#22a022","#ff0000","#000000"]},"legend":null},"fillOpacity":{"field":"f","type":"quantitative","scale":{"domain":[0,1],"range":[0,1]},"legend":null}}},
{"transform":[{"filter":"datum.g=='j'"}],"mark":"point","encoding":{"x":{"field":"s","type":"quantitative","scale":{"domain":[0,0.5]},"axis":{"format":"~g","title":null}},"y":{"field":"p","type":"quantitative","scale":{"domain":[0,1]},"axis":{"format":"~g","title":null}},"fill":{"field":"m","type":"nominal","scale":{"domain":[0.2,0.1,0],"range":["#22a022","#ff0000","#000000"]},"legend":null},"stroke":{"field":"m","type":"nominal","scale":{"domain":[0.2,0.1,0],"range":["#22a022","#ff0000","#000000"]},"legend":null},"fillOpacity":{"field":"f","type":"quantitative","scale":{"domain":[0,1],"range":[0,1]},"legend":null}}},
{"transform":[{"filter":"datum.g=='k'"}],"mark":"point","encoding":{"x":{"field":"s","type":"quantitative","scale":{"domain":[0,0.5]},"axis":{"format":"~g","title":null}},"y":{"field":"p","type":"quantitative","scale":{"domain":[0,1]},"axis":{"format":"~g","title":null}},"fill":{"field":"m","type":"nominal","scale":{"domain":[0.2,0.1,0],"range":["#22a022","#ff0000","#000000"]},"legend":null},"stroke":{"field":"m","type":"nominal","scale":{"domain":[0.2,0.1,0],"range":["#22a022","#ff0000","#000000"]},"legend":null},"fillOpacity":{"field":"f","type":"quantitative","scale":{"domain":[0,1],"range":[0,1]},"legend":null}}},
{"transform":[{"filter":"datum.g=='l'"}],"mark":"point","encoding":{"x":{"field":"s","type":"quantitative","scale":{"domain":[0,0.5]},"axis":{"format":"~g","title":null,"labelFlush":true}},"y":{"field":"p","type":"quantitative","scale":{"domain":[0,1]},"axis":{"format":"~g","title":null}},"fill":{"field":"m","type":"nominal","scale":{"domain":[0.2,0.1,0],"range":["#22a022","#ff0000","#000000"]},"legend":null},"stroke":{"field":"m","type":"nominal","scale":{"domain":[0.2,0.1,0],"range":["#22a022","#ff0000","#000000"]},"legend":null},"fillOpacity":{"field":"f","type":"quantitative","scale":{"domain":[0,1],"range":[0,1]},"legend":null}}},
{"transform":[{"filter":"datum.g=='m'"}],"mark":"point","encoding":{"x":{"field":"s","type":"quantitative","scale":{"domain":[0,0.5]},"axis":{"format":"~g","title":"σ"}},"y":{"field":"p","type":"quantitative","scale":{"domain":[0,1]},"axis":{"format":"~g","title":["κ=0.8","p"]}},"fill":{"field":"m","type":"nominal","scale":{"domain":[0.2,0.1,0],"range":["#22a022","#ff0000","#000000"]},"legend":null},"stroke":{"field":"m","type":"nominal","scale":{"domain":[0.2,0.1,0],"range":["#22a022","#ff0000","#000000"]},"legend":null},"fillOpacity":{"field":"f","type":"quantitative","scale":{"domain":[0,1],"range":[0,1]},"legend":null}}},
{"transform":[{"filter":"datum.g=='n'"}],"mark":"point","encoding":{"x":{"field":"s","type":"quantitative","scale":{"domain":[0,0.5]},"axis":{"format":"~g","title":"σ"}},"y":{"field":"p","type":"quantitative","scale":{"domain":[0,1]},"axis":{"format":"~g","title":null}},"fill":{"field":"m","type":"nominal","scale":{"domain":[0.2,0.1,0],"range":["#22a022","#ff0000","#000000"]},"legend":null},"stroke":{"field":"m","type":"nominal","scale":{"domain":[0.2,0.1,0],"range":["#22a022","#ff0000","#000000"]},"legend":null},"fillOpacity":{"field":"f","type":"quantitative","scale":{"domain":[0,1],"range":[0,1]},"legend":null}}},
{"transform":[{"filter":"datum.g=='o'"}],"mark":"point","encoding":{"x":{"field":"s","type":"quantitative","scale":{"domain":[0,0.5]},"axis":{"format":"~g","title":"σ"}},"y":{"field":"p","type":"quantitative","scale":{"domain":[0,1]},"axis":{"format":"~g","title":null}},"fill":{"field":"m","type":"nominal","scale":{"domain":[0.2,0.1,0],"range":["#22a022","#ff0000","#000000"]},"legend":null},"stroke":{"field":"m","type":"nominal","scale":{"domain":[0.2,0.1,0],"range":["#22a022","#ff0000","#000000"]},"legend":null},"fillOpacity":{"field":"f","type":"quantitative","scale":{"domain":[0,1],"range":[0,1]},"legend":null}}},
{"transform":[{"filter":"datum.g=='p'"}],"mark":"point","encoding":{"x":{"field":"s","type":"quantitative","scale":{"domain":[0,0.5]},"axis":{"format":"~g","title":"σ","labelFlush":true}},"y":{"field":"p","type":"quantitative","scale":{"domain":[0,1]},"axis":{"format":"~g","title":null}},"fill":{"field":"m","type":"nominal","scale":{"domain":[0.2,0.1,0],"range":["#22a022","#ff0000","#000000"]},"legend":null},"stroke":{"field":"m","type":"nominal","scale":{"domain":[0.2,0.1,0],"range":["#22a022","#ff0000","#000000"]},"legend":null},"fillOpacity":{"field":"f","type":"quantitative","scale":{"domain":[0,1],"range":[0,1]},"legend":null}}}
]
}
